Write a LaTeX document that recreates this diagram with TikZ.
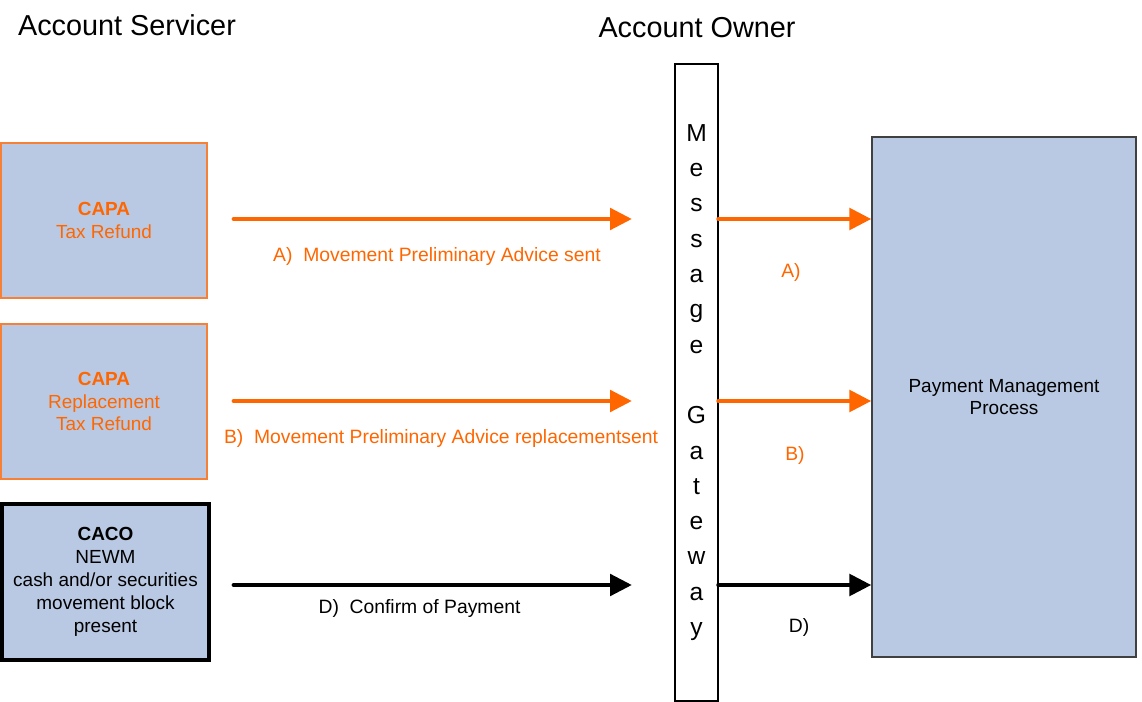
\documentclass[tikz,border=0pt]{standalone}
\usepackage{fontspec}
\setmainfont{Liberation Sans}
\usetikzlibrary{arrows.meta,positioning}
\newdimen\pxdim
\pxdim=0.02cm
\definecolor{boxfill}{RGB}{185,201,227}
\definecolor{msgorange}{RGB}{255,102,0}
\definecolor{edgeorange}{RGB}{247,128,55}
\tikzstyle{element}=[
  rectangle,
  fill=boxfill,
  draw=edgeorange,
  line width=.7pt,
  minimum width=206\pxdim,
  minimum height=155\pxdim,
  inner sep=0pt,
  align=center,
  text=msgorange,
  font=\fontsize{10.8}{13}\selectfont,
]
\tikzstyle{title}=[
  font=\fontsize{16.4}{19}\selectfont,
]
\tikzstyle{gateway}=[
  rectangle,
  draw=black,
  line width=.8pt,
  fill=white,
  minimum width=43\pxdim,
  minimum height=637\pxdim,
  inner sep=0pt,
  align=center,
  font=\fontsize{14}{20.1}\selectfont,
]
\tikzstyle{arrow}=[
  draw=msgorange,
  line width=2.8pt,
  line cap=round,
  -{Triangle[length=12.5pt,width=12pt]},
]
\tikzstyle{arrowlabel}=[
  text=msgorange,
  font=\fontsize{11}{13}\selectfont,
]
\tikzset{
  x=\pxdim,
  y=-\pxdim,
}

\begin{document}
\begin{tikzpicture}
    \useasboundingbox (0,0) rectangle (1142,702);
    \node (servicer) [title] at (127,25) {Account Servicer};
    \node (owner) [title] at (697,28) {Account Owner};
    %%
    \node (capa) [element] at (104,220.5) {\textbf{CAPA}\\Tax Refund};
    \node (capr) [element] at (104,401.5) {\textbf{CAPA}\\Replacement\\Tax Refund};
    \node (caco) [element, draw=black, line width=2pt, text=black,
                  minimum width=207\pxdim, minimum height=156\pxdim]
          at (105.5,582) {\textbf{CACO}\\NEWM\\cash and/or securities\\movement block\\present};
    %%
    \node (gw) [gateway] at (696.5,382.5)
          {M\\e\\s\\s\\a\\g\\e\\[20.1pt]G\\a\\t\\e\\w\\a\\y};
    \node (pmp) [element, draw=black!75, text=black,
                 minimum width=264\pxdim, minimum height=520\pxdim]
          at (1004,397) {Payment Management\\Process};
    %%
    \coordinate (aS) at (234,219);
    \coordinate (aE) at (632,219);
    \coordinate (bS) at (234,401);
    \coordinate (bE) at (632,401);
    \coordinate (dS) at (234,585);
    \coordinate (dE) at (632,585);
    %%
    \draw [arrow] (aS) -- (aE);
    \draw [arrow] (bS) -- (bE);
    \draw [arrow, draw=black] (dS) -- (dE);
    \draw [arrow] (gw.east |- aS) -- (pmp.west |- aS);
    \draw [arrow] (gw.east |- bS) -- (pmp.west |- bS);
    \draw [arrow, draw=black] (gw.east |- dS) -- (pmp.west |- dS);
    %%
    \node (lblA) [arrowlabel] at (437,257) {A)\ \ Movement Preliminary Advice sent};
    \node (lblB) [arrowlabel] at (441,439) {B)\ \ Movement Preliminary Advice replacementsent};
    \node (lblD) [arrowlabel, text=black] at (419.5,608) {D)\ \ Confirm of Payment};
    \node (lblAr) [arrowlabel] at (791,273) {A)};
    \node (lblBr) [arrowlabel] at (795,455) {B)};
    \node (lblDr) [arrowlabel, text=black] at (799,627) {D)};
\end{tikzpicture}
\end{document}
